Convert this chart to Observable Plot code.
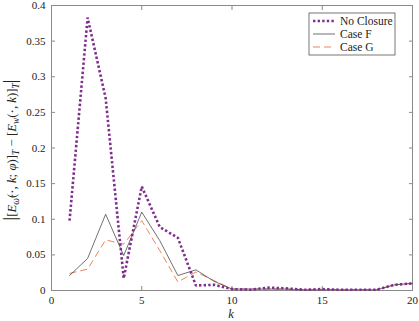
<!DOCTYPE html>
<html><head><meta charset="utf-8">
<script src="https://cdn.jsdelivr.net/npm/d3@7"></script>
<script src="https://cdn.jsdelivr.net/npm/@observablehq/plot@0.6"></script>
<style>
body{margin:0;background:#fff;}
#chart svg{display:block;}
#chart svg text{font-family:'Liberation Serif','DejaVu Serif',serif;}
</style>
</head><body><div id="chart"></div>
<script>
const ks = [1,2,3,4,5,6,7,8,9,10,11,12,13,14,15,16,17,18,19,20];
const noClosure = [0.098,0.383,0.270,0.017,0.146,0.089,0.074,0.007,0.008,0.002,0.001,0.004,0.003,0.001,0.002,0.001,0.001,0.001,0.008,0.010];
const caseF = [0.021,0.045,0.107,0.049,0.110,0.070,0.021,0.029,0.013,0.002,0.002,0.002,0.002,0.001,0.001,0.001,0.001,0.001,0.008,0.010];
const caseG = [0.024,0.030,0.071,0.065,0.098,0.056,0.012,0.026,0.014,0.002,0.002,0.002,0.002,0.001,0.001,0.001,0.001,0.001,0.008,0.010];
const seriesNames = ["No Closure","Case F","Case G"];
const xTicks = [0,5,10,15,20];
const yTicks = [0,0.05,0.1,0.15,0.2,0.25,0.3,0.35,0.4];

const colNC = "#7E2F8E", colF = "#333333", colG = "#E8875A";
const rows = (vals) => ks.map((k,i)=>({k, v: vals[i]}));
const font = "'Liberation Serif','DejaVu Serif',serif";
const axisCol = "#8a8a8a";

const plot = Plot.plot({
  width: 419, height: 321,
  marginLeft: 51, marginRight: 7, marginTop: 5, marginBottom: 31,
  style: {fontFamily: font, fontSize: "11px", color: "#222", background: "#fff"},
  x: {domain: [0,20]},
  y: {domain: [0,0.4]},
  marks: [
    Plot.frame({stroke: axisCol, strokeWidth: 1}),
    Plot.axisX({anchor:"bottom", ticks: xTicks, tickSize: -4, tickPadding: 10, stroke: axisCol, label: null, tickFormat: d=>String(d), fontFamily: font}),
    Plot.axisX({anchor:"top", ticks: xTicks, tickSize: -4, tickFormat: ()=>"", stroke: axisCol, label: null}),
    Plot.axisY({anchor:"left", ticks: yTicks, tickSize: -4, tickPadding: 10, stroke: axisCol, label: null, tickFormat: d=>String(d), fontFamily: font}),
    Plot.axisY({anchor:"right", ticks: yTicks, tickSize: -4, tickFormat: ()=>"", stroke: axisCol, label: null}),
    Plot.line(rows(caseG), {x:"k", y:"v", stroke: colG, strokeWidth: 1, strokeDasharray: "7,4", strokeLinecap: "butt"}),
    Plot.line(rows(caseF), {x:"k", y:"v", stroke: colF, strokeWidth: 0.7}),
    Plot.line(rows(noClosure), {x:"k", y:"v", stroke: colNC, strokeWidth: 2.6, strokeDasharray: "2.4,2.2", strokeLinecap: "butt", strokeLinejoin: "miter"})
  ]
});
document.getElementById("chart").appendChild(plot);

const svg = d3.select(plot);
// x label
svg.append("text").attr("x", 231).attr("y", 318).attr("text-anchor","middle")
  .attr("font-family", font).attr("font-size", 12.5).attr("font-style","italic").attr("fill","#222").text("k");

// y label with sub-scripts
const yl = svg.append("text").attr("transform","translate(16,150) rotate(-90)")
  .attr("text-anchor","middle").attr("font-family", font).attr("font-size", 12.8).attr("fill","#222");
const parts = [
  ["|", {size:18}], ["[", {}], ["E", {it:1}], ["ω̃", {sub:1,it:1}], ["(·, ", {}], ["k", {it:1}], ["; ", {}], ["φ", {it:1}], [")]", {}], ["T", {sub:1,it:1}],
  [" − [", {}], ["E", {it:1}], ["w", {sub:1,it:1}], ["(·, ", {}], ["k", {it:1}], [")]", {}], ["T", {sub:1,it:1}], ["|", {size:18}]
];
let prevSub = false;
parts.forEach(([t,o])=>{
  const ts = yl.append("tspan").text(t);
  if (o.it) ts.attr("font-style","italic");
  if (o.size) ts.attr("font-size", o.size);
  if (o.sub && !prevSub) { ts.attr("dy", 3).attr("font-size", 9.5); }
  else if (o.sub) ts.attr("font-size", 9.5);
  else if (!o.sub && prevSub) ts.attr("dy", -3);
  prevSub = !!o.sub;
});

// legend
const lg = svg.append("g");
const lx = 309, ly = 13, lw = 86, lh = 42;
lg.append("rect").attr("x",lx).attr("y",ly).attr("width",lw).attr("height",lh)
  .attr("fill","#fff").attr("stroke","#555").attr("stroke-width",0.8);
const styles = [
  {stroke: colNC, w: 2.6, dash: "2.4,2.2"},
  {stroke: colF, w: 0.7, dash: null},
  {stroke: colG, w: 1, dash: "7,4"}
];
seriesNames.forEach((name,i)=>{
  const yy = ly + 8 + i*13;
  const ln = lg.append("line").attr("x1", lx+4).attr("x2", lx+26).attr("y1", yy).attr("y2", yy)
    .attr("stroke", styles[i].stroke).attr("stroke-width", styles[i].w);
  if (styles[i].dash) ln.attr("stroke-dasharray", styles[i].dash);
  lg.append("text").attr("x", lx+31).attr("y", yy+4).attr("text-anchor","start")
    .attr("font-family", font).attr("font-size", 11.5).attr("fill","#222").text(name);
});
</script>
</body></html>
